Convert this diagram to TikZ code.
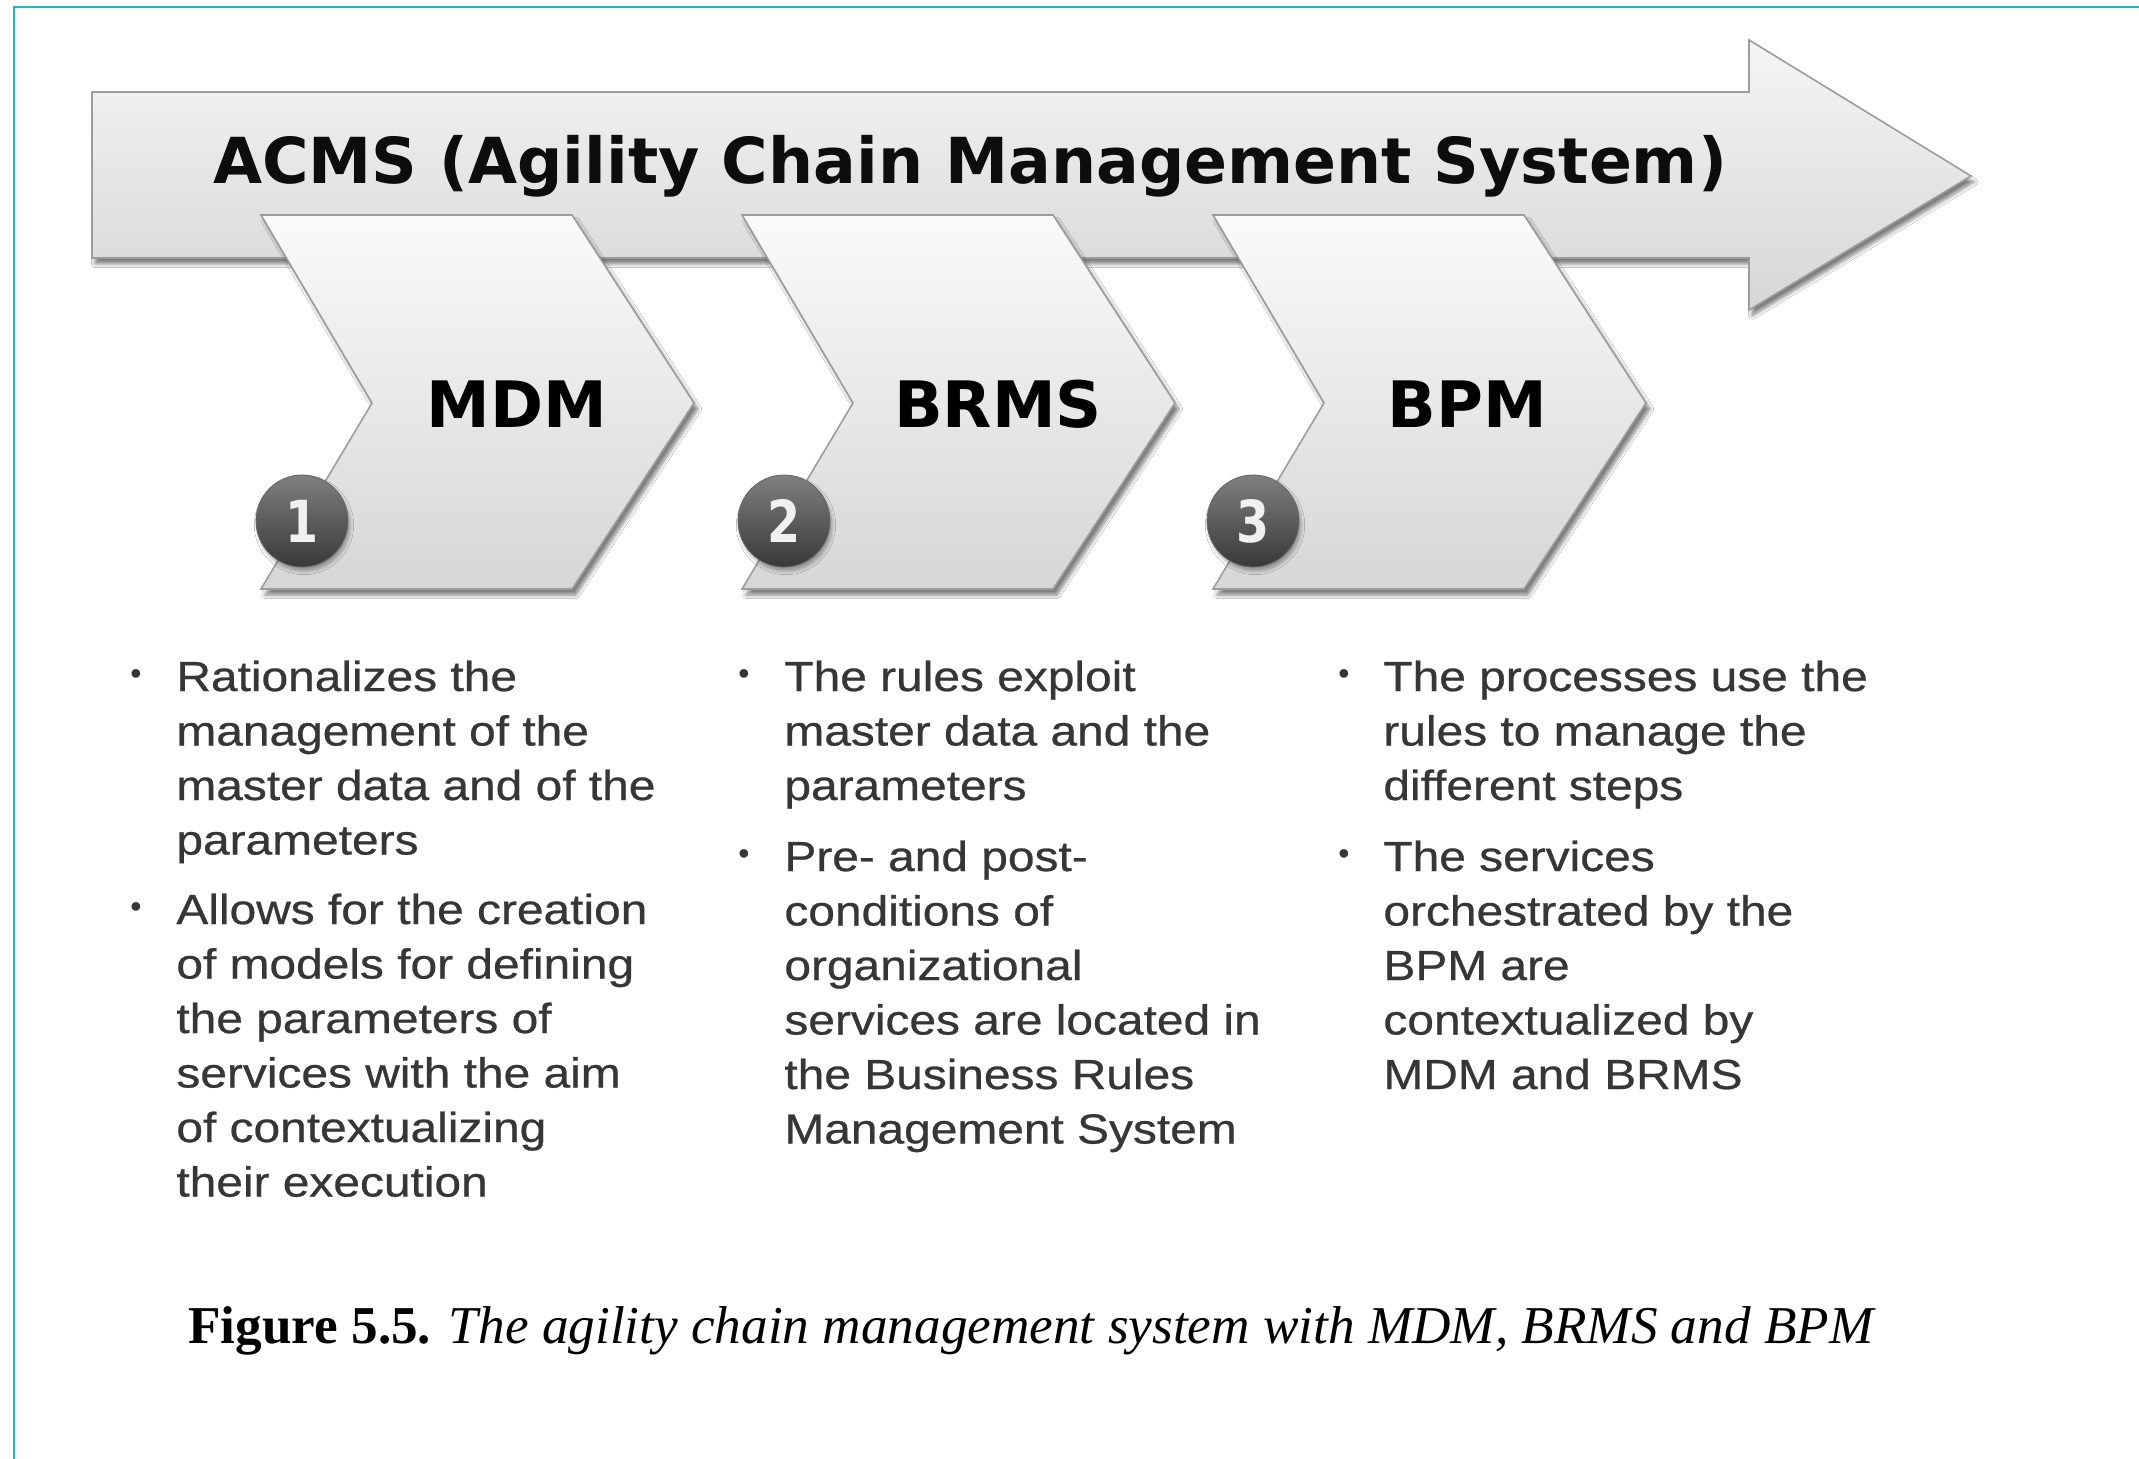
\documentclass[tikz,border=0pt]{standalone}
\usepackage{fontspec}
\setmainfont{Liberation Serif}
\newfontfamily\dejavu{DejaVu Sans}
\newfontfamily\numfont[FakeStretch=0.82]{DejaVu Sans}
\newfontfamily\bodyfont[FakeStretch=1.14, FakeBold=0.6]{Liberation Sans}
\newfontfamily\bulletfont{Liberation Sans}
\usetikzlibrary{shadows.blur}
\definecolor{frameteal}{HTML}{22B8B8}
\definecolor{bodytext}{HTML}{363636}
\definecolor{edgegray}{HTML}{9C9C9C}
\tikzset{
  mainarrow/.style={draw=edgegray, line width=0.8pt, top color=white!96!black, bottom color=white!84!black,
    blur shadow={shadow xshift=1.5pt, shadow yshift=-3pt, shadow blur steps=6, shadow opacity=50}},
  chevronbox/.style={draw=edgegray, line width=0.8pt, top color=white!98!black, bottom color=white!84!black,
    blur shadow={shadow xshift=2pt, shadow yshift=-3pt, shadow blur steps=6, shadow opacity=50}},
  steplabel/.style={font=\dejavu\bfseries\fontsize{32}{36}\selectfont, text=black, inner sep=0pt},
  numcircle/.style={circle, minimum size=46pt, inner sep=0pt, top color=black!50, bottom color=black!78,
    draw=black!60, line width=0.4pt, text=white!94!black, font=\numfont\bfseries\fontsize{29}{30}\selectfont,
    blur shadow={shadow xshift=1pt, shadow yshift=-2pt, shadow blur steps=5, shadow opacity=35}},
  titletext/.style={font=\dejavu\bfseries\fontsize{31.7}{36}\selectfont, text=black!95, inner sep=0pt},
  bodytextnode/.style={font=\bodyfont\fontsize{21}{27.25}\selectfont, text=bodytext, align=left, inner sep=0pt},
  bulletmark/.style={font=\bulletfont\fontsize{16}{18}\selectfont, text=bodytext, inner sep=0pt},
  captiontext/.style={font=\fontsize{26.6}{30}\selectfont, text=black, inner sep=0pt}
}
\begin{document}
\begin{tikzpicture}[x=0.5pt,y=-0.5pt]
\useasboundingbox (0,0) rectangle (2139,1459);
\fill[white] (0,0) rectangle (2139,1459);
\draw[frameteal, line width=1.4pt] (14,1459) -- (14,7) -- (2139,7);

% main arrow
\path[mainarrow] (92,92) -- (1749,92) -- (1749,40) -- (1971,176) -- (1749,310) -- (1749,258) -- (92,258) -- cycle;
\node[titletext, anchor=base] (title) at (970,184) {ACMS (Agility Chain Management System)};

% chevrons
\foreach \cx in {261,742,1213}{
  \path[chevronbox] (\cx,215) -- (\cx+311,215) -- (\cx+433,403) -- (\cx+311,589) -- (\cx,589) -- (\cx+111,403) -- cycle;
}
\node[steplabel] (mdm) at (517,404) {MDM};
\node[steplabel] (brms) at (998,404) {BRMS};
\node[steplabel] (bpm) at (1467,404) {BPM};

\node[numcircle] (n1) at (302,521) {1};
\node[numcircle] (n2) at (784,521) {2};
\node[numcircle] (n3) at (1253,521) {3};

% column 1 (multi-line nodes anchored at the baseline of their last line)
\node[bulletmark, anchor=base] (b11) at (136,684) {\textbullet};
\node[bodytextnode, anchor=base west] (t11) at (176,854.5) {Rationalizes the\\management of the\\master data and of the\\parameters};
\node[bulletmark, anchor=base] (b12) at (136,917) {\textbullet};
\node[bodytextnode, anchor=base west] (t12) at (176,1196.5) {Allows for the creation\\of models for defining\\the parameters of\\services with the aim\\of contextualizing\\their execution};

% column 2
\node[bulletmark, anchor=base] (b21) at (744,684) {\textbullet};
\node[bodytextnode, anchor=base west] (t21) at (784,800) {The rules exploit\\master data and the\\parameters};
\node[bulletmark, anchor=base] (b22) at (744,864) {\textbullet};
\node[bodytextnode, anchor=base west] (t22) at (784,1143.5) {Pre- and post-\\conditions of\\organizational\\services are located in\\the Business Rules\\Management System};

% column 3
\node[bulletmark, anchor=base] (b31) at (1344,684) {\textbullet};
\node[bodytextnode, anchor=base west] (t31) at (1383,800) {The processes use the\\rules to manage the\\different steps};
\node[bulletmark, anchor=base] (b32) at (1344,864) {\textbullet};
\node[bodytextnode, anchor=base west] (t32) at (1383,1089) {The services\\orchestrated by the\\BPM are\\contextualized by\\MDM and BRMS};

% caption
\node[captiontext, anchor=base west] (caption) at (188,1343) {\textbf{Figure 5.5.} \textit{The agility chain management system with MDM, BRMS and BPM}};
\end{tikzpicture}
\end{document}
